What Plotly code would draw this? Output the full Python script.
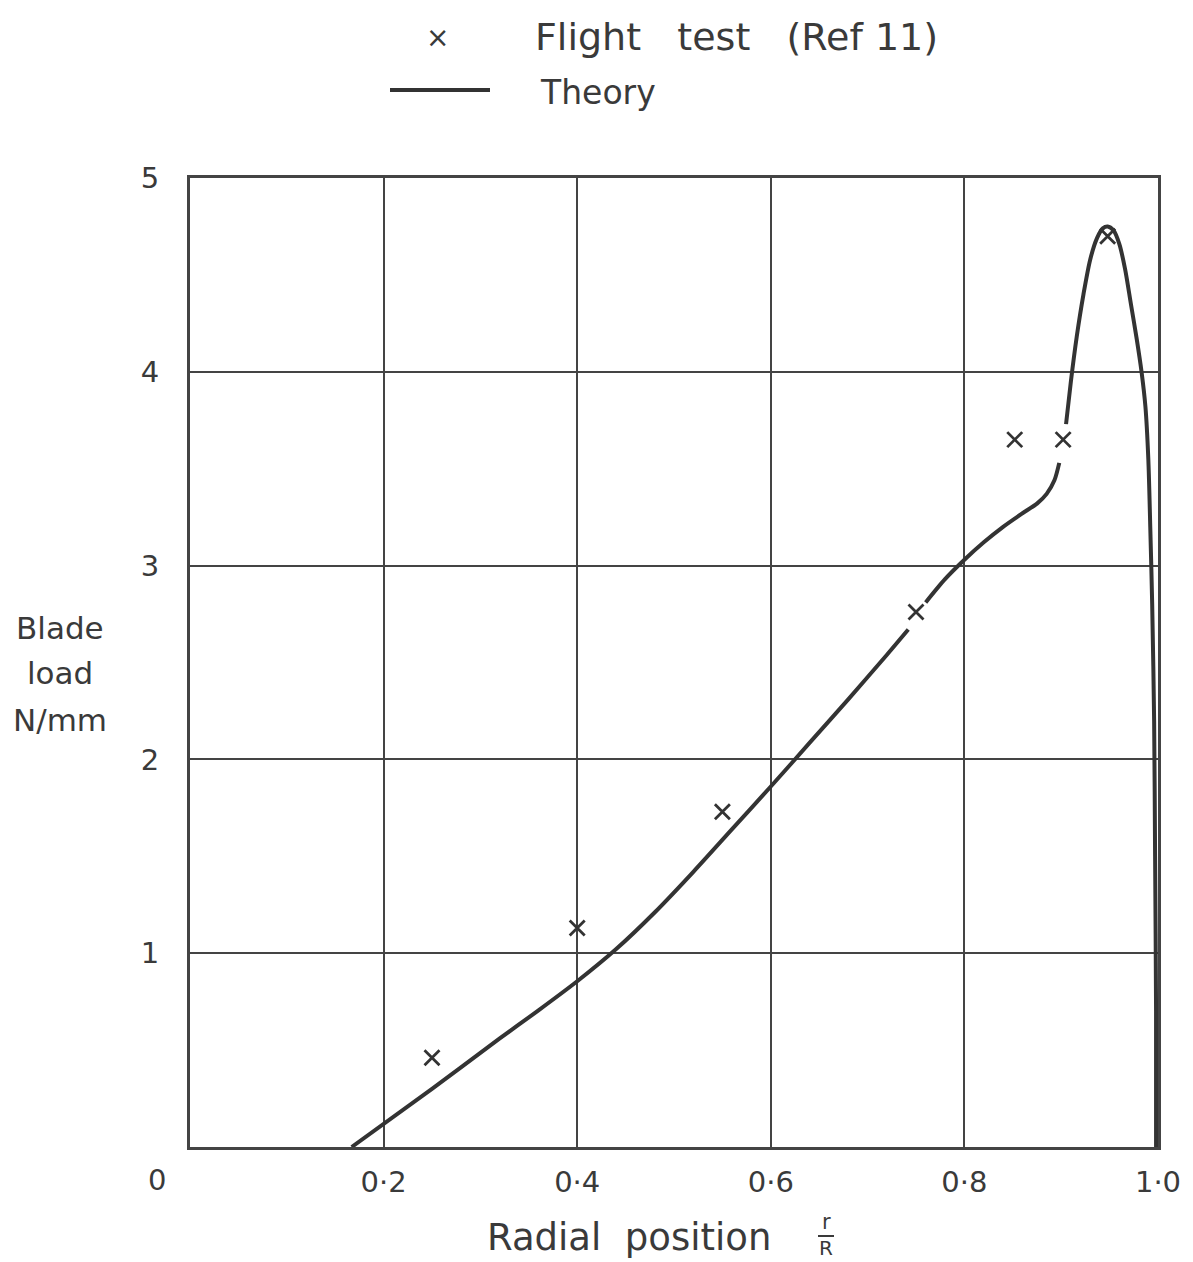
import plotly.graph_objects as go

# Flight test points (Ref 11)
test_x = [0.25, 0.40, 0.55, 0.75, 0.852, 0.902, 0.948]
test_y = [0.46, 1.13, 1.73, 2.76, 3.65, 3.65, 4.70]

# Theory curve (None = pen gaps around the test markers)
theory_x = [0.167, 0.25, 0.32, 0.36, 0.40, 0.44, 0.48, 0.52, 0.56, 0.60, 0.64, 0.68, 0.72, 0.742,
            None, 0.760, 0.78, 0.80, 0.82, 0.84, 0.86, 0.875, 0.885, 0.893, 0.898,
            None, 0.905, 0.910, 0.916, 0.923, 0.930, 0.937, 0.943, 0.948, 0.954, 0.960,
            0.966, 0.972, 0.978, 0.983, 0.987, 0.990, 0.992, 0.994, 0.996, 0.997, 0.998, 0.998]
theory_y = [0.0, 0.30, 0.56, 0.705, 0.855, 1.02, 1.21, 1.42, 1.64, 1.86, 2.085, 2.31, 2.54, 2.67,
            None, 2.81, 2.93, 3.03, 3.12, 3.20, 3.27, 3.32, 3.37, 3.44, 3.53,
            None, 3.73, 3.95, 4.18, 4.40, 4.58, 4.69, 4.74, 4.75, 4.73, 4.66,
            4.53, 4.35, 4.17, 4.00, 3.82, 3.55, 3.20, 2.80, 2.20, 1.50, 0.70, 0.0]

x_tickvals = [0.2, 0.4, 0.6, 0.8, 1.0]
x_ticktext = ["0·2", "0·4", "0·6", "0·8", "1·0"]
y_tickvals = [1, 2, 3, 4, 5]
y_ticktext = ["1", "2", "3", "4", "5"]

INK = "#3a3a3a"
FONT = "DejaVu Sans"

fig = go.Figure()
fig.add_trace(go.Scatter(x=theory_x, y=theory_y, mode="lines",
                         line=dict(color="#333333", width=4, shape="spline", smoothing=0.8),
                         connectgaps=False, showlegend=False, hoverinfo="skip"))
fig.add_trace(go.Scatter(x=test_x, y=test_y, mode="markers",
                         marker=dict(symbol="x-thin-open", size=15, color="#333333",
                                     line=dict(color="#333333", width=2.8)),
                         showlegend=False))

fig.update_xaxes(range=[0, 1.0], tickvals=x_tickvals, ticktext=x_ticktext,
                 showgrid=True, gridcolor="#444444", gridwidth=2,
                 showline=True, linecolor="#444444", linewidth=3, mirror=True,
                 zeroline=False, ticks="", ticklabelstandoff=7,
                 tickfont=dict(family=FONT, size=29, color=INK))
fig.update_yaxes(range=[0, 5], tickvals=y_tickvals, ticktext=y_ticktext,
                 showgrid=True, gridcolor="#444444", gridwidth=2,
                 showline=True, linecolor="#444444", linewidth=3, mirror=True,
                 zeroline=False, ticks="", ticklabelstandoff=22,
                 tickfont=dict(family=FONT, size=29, color=INK))

fig.update_layout(
    width=1193, height=1262,
    margin=dict(l=190, r=35, t=178, b=115),
    paper_bgcolor="white", plot_bgcolor="white",
    showlegend=False,
)

def px(xp, yp):
    # convert pixel coords to paper coords
    return (xp - 190) / (1158 - 190), (1147 - yp) / (1147 - 178)

annotations = []
def add_text(xp, yp, text, size, xanchor="center"):
    x, y = px(xp, yp)
    annotations.append(dict(x=x, y=y, xref="paper", yref="paper", text=text,
                            showarrow=False, xanchor=xanchor, yanchor="middle",
                            font=dict(family=FONT, size=size, color=INK)))

add_text(157, 1180, "0", 29)
add_text(437, 37, "×", 28)
add_text(533, 37, "Flight   test   (Ref 11)", 38, xanchor="left")
add_text(538, 92, "Theory", 33, xanchor="left")
add_text(60, 628, "Blade", 31)
add_text(60, 673, "load", 31)
add_text(60, 720, "N/mm", 31)
add_text(629, 1237, "Radial  position", 37)
add_text(826, 1222, "r", 21)
add_text(826, 1248, "R", 20)

shapes = []
x0, y0 = px(390, 90)
x1, _ = px(490, 90)
shapes.append(dict(type="line", xref="paper", yref="paper", x0=x0, y0=y0, x1=x1, y1=y0,
                   line=dict(color="#333333", width=4)))
fx0, fy = px(818, 1236)
fx1, _ = px(834, 1236)
shapes.append(dict(type="line", xref="paper", yref="paper", x0=fx0, y0=fy, x1=fx1, y1=fy,
                   line=dict(color=INK, width=2)))

fig.update_layout(annotations=annotations, shapes=shapes)
fig.write_html("out.html")
